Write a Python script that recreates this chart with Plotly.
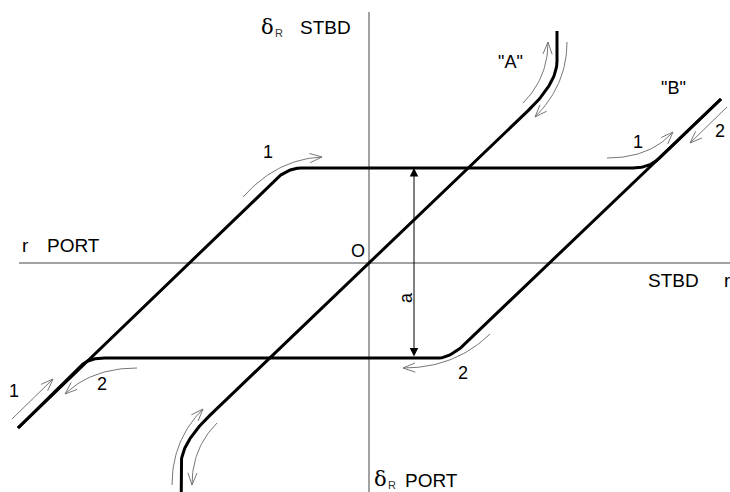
import numpy as np
import plotly.graph_objects as go

# Coordinates: r to the right (STBD), delta_R upward (STBD), origin O at the axes crossing.

# Centre characteristic "A" through O: vertices and fillet cuts (before, after) at the bends
A_r = [-188, -188, 188, 188]
A_d = [-262, -180, 180, 232]
A_cut = [(22, 40), (40, 22)]

# Branch 1 (increasing r): left edge, upper plateau, right edge
B1_r = [-351, -82, 280, 352]
B1_d = [-165, 95, 95, 164]
B1_cut = [(20, 14), (16, 14)]

# Branch 2 (decreasing r): right edge, lower plateau, left edge
B2_r = [352, 82, -280, -351]
B2_d = [164, -95, -95, -165]
B2_cut = [(28, 12), (16, 10)]

# Direction arrows: start, bend control, tip
ARROWS = {
    "up_1_top":    [(-126, 66), (-92, 104), (-47, 106)],
    "right_1":     [(238, 105), (281, 105), (304, 131)],
    "right_2":     [(358, 156), (340, 138), (321, 120)],
    "A_up_top":    [(154, 160), (179, 185), (179, 221)],
    "A_down_top":  [(198, 221), (198, 178), (166, 146)],
    "A_up_bot":    [(-197, -222), (-197, -177), (-166, -146)],
    "A_down_bot":  [(-152, -160), (-177, -185), (-177, -222)],
    "low_2_right": [(121, -71), (86, -105), (34, -105)],
    "low_2_left":  [(-232, -105), (-277, -105), (-304, -131)],
    "low_1_left":  [(-357, -156), (-336, -136), (-316, -116)],
}

# Dimension "a" between the plateaus
DIM_R = 45
DIM_D = [95, -95]

# Axis extents
H_AXIS_R = [-350, 361]
V_AXIS_D = [-229, 251]

FONT = "Liberation Sans, Arial"

# Text labels: (text, r, delta, size)
LABELS = [
    ("1", -101, 111, 18),
    ("1", 269, 121, 18),
    ("2", 351, 132, 18),
    ("\"A\"", 141, 201, 18),
    ("\"B\"", 304, 175, 18),
    ("2", 94, -110, 18),
    ("2", -267, -121, 18),
    ("1", -355, -128, 18),
    ("O", -11, 12, 18),
    ("STBD", -44, 236, 19),
    ("r", -344, 18, 19),
    ("PORT", -296, 18, 19),
    ("STBD", 304, -17, 19),
    ("PORT", 62, -217, 19),
]

# Rudder angle symbol delta_R: (r, delta) of the delta, offset of the subscript
DELTA_POS = [(-102, 236), (11, -216)]
SUB_OFFSET = (12, -6)


def quad(p0, c, p2, n=30):
    t = np.linspace(0, 1, n)[:, None]
    p0, c, p2 = map(np.asarray, (p0, c, p2))
    return (1 - t) ** 2 * p0 + 2 * (1 - t) * t * c + t ** 2 * p2


def rounded(rs, ds, cuts):
    pts = np.column_stack([rs, ds]).astype(float)
    out = [pts[0]]
    for i in range(1, len(pts) - 1):
        v = pts[i]
        u_in = (pts[i - 1] - v) / np.linalg.norm(pts[i - 1] - v)
        u_out = (pts[i + 1] - v) / np.linalg.norm(pts[i + 1] - v)
        c1, c2 = cuts[i - 1]
        out.extend(quad(v + u_in * c1, v, v + u_out * c2))
    out.append(pts[-1])
    out = np.array(out)
    return out[:, 0], out[:, 1]


def arrow_head(c, tip, length=13, half=0.36):
    c, tip = np.asarray(c, float), np.asarray(tip, float)
    d = (c - tip) / np.linalg.norm(c - tip)
    xs, ys = [], []
    for s in (half, -half):
        rot = np.array([[np.cos(s), -np.sin(s)], [np.sin(s), np.cos(s)]])
        b = tip + rot @ d * length
        xs += [b[0], tip[0], None]
        ys += [b[1], tip[1], None]
    return xs, ys


fig = go.Figure()

# axes
fig.add_trace(go.Scatter(x=H_AXIS_R, y=[0, 0], mode="lines",
                         line=dict(color="#444", width=1), hoverinfo="skip"))
fig.add_trace(go.Scatter(x=[0, 0], y=V_AXIS_D, mode="lines",
                         line=dict(color="#444", width=1), hoverinfo="skip"))

# characteristics
for rs, ds, cuts in [(A_r, A_d, A_cut), (B1_r, B1_d, B1_cut), (B2_r, B2_d, B2_cut)]:
    x, y = rounded(rs, ds, cuts)
    fig.add_trace(go.Scatter(x=x, y=y, mode="lines",
                             line=dict(color="black", width=3), hoverinfo="skip"))

# direction arrows
for name, (p0, c, tip) in ARROWS.items():
    pts = quad(p0, c, tip)
    hx, hy = arrow_head(pts[-4], tip)
    fig.add_trace(go.Scatter(x=list(pts[:, 0]) + [None] + hx,
                             y=list(pts[:, 1]) + [None] + hy,
                             mode="lines", line=dict(color="#777", width=1),
                             hoverinfo="skip"))

# dimension line "a"
fig.add_annotation(x=DIM_R, y=DIM_D[0], ax=DIM_R, ay=DIM_D[1], axref="x", ayref="y",
                   xref="x", yref="y", text="", showarrow=True, arrowside="end+start",
                   arrowhead=2, startarrowhead=2, arrowsize=1.7, startarrowsize=1.7,
                   arrowwidth=1, arrowcolor="black", standoff=0, startstandoff=0)
fig.add_annotation(x=DIM_R - 8, y=-35, text="a", textangle=-90, showarrow=False,
                   font=dict(size=18, color="black", family=FONT))

for text, x, y, size in LABELS:
    fig.add_annotation(x=x, y=y, text=text, showarrow=False,
                       font=dict(size=size, color="black", family=FONT))
fig.add_annotation(x=353, y=-17, text="r", showarrow=False, xanchor="left",
                   font=dict(size=19, color="black", family=FONT))

for x, y in DELTA_POS:
    fig.add_annotation(x=x, y=y, text="δ", showarrow=False,
                       font=dict(size=21, color="black", family="DejaVu Serif, serif"))
    fig.add_annotation(x=x + SUB_OFFSET[0], y=y + SUB_OFFSET[1], text="R", showarrow=False,
                       font=dict(size=11, color="#333", family=FONT))

fig.update_layout(
    width=730, height=492, margin=dict(l=0, r=0, t=0, b=0),
    paper_bgcolor="white", plot_bgcolor="white", showlegend=False,
    xaxis=dict(range=[-369, 361], visible=False, fixedrange=True),
    yaxis=dict(range=[-229, 263], visible=False, fixedrange=True),
)

fig.write_html("out.html")
